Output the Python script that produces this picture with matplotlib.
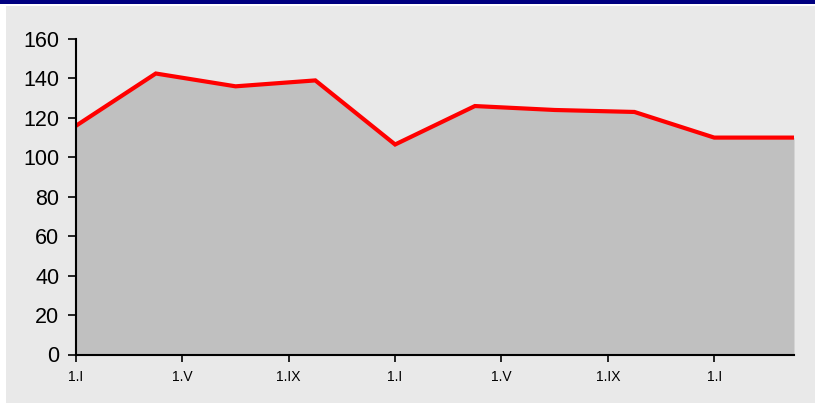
import matplotlib.pyplot as plt
from matplotlib.patches import Rectangle

# quarterly observations, months counted from the first 1.I
months = [0, 3, 6, 9, 12, 15, 18, 21, 24, 27]
values = [116, 142.5, 136, 139, 106.5, 126, 124, 123, 110, 110]

tick_months = [0, 4, 8, 12, 16, 20, 24]
tick_labels = ["1.I", "1.V", "1.IX", "1.I", "1.V", "1.IX", "1.I"]

BG = "#E9E9E9"

plt.rcParams["font.family"] = ["Liberation Sans", "DejaVu Sans"]

fig = plt.figure(figsize=(8.15, 4.03), dpi=100)
fig.patch.set_facecolor("white")

# frame: navy strip on top, light grey panel below
fig.add_artist(Rectangle((0, 1 - 4 / 403), 1, 4 / 403, transform=fig.transFigure,
                         facecolor="#000080", edgecolor="none", zorder=0))
fig.add_artist(Rectangle((6 / 815, 0), 1 - 6 / 815, 1 - 6 / 403, transform=fig.transFigure,
                         facecolor=BG, edgecolor="none", zorder=0))

ax = fig.add_axes([76 / 815, 1 - 354.5 / 403, (794 - 76) / 815, (354.5 - 39) / 403])
ax.set_facecolor("none")

ax.fill_between(months, values, 0, color="#C0C0C0", linewidth=0, zorder=1)
ax.plot(months, values, color="#FF0000", linewidth=3, solid_joinstyle="miter", zorder=3)

ax.set_xlim(0, 27)
ax.set_ylim(0, 160)
ax.set_yticks(range(0, 161, 20))
ax.set_xticks(tick_months)
ax.set_xticklabels(tick_labels)

for side in ["top", "right"]:
    ax.spines[side].set_visible(False)
for side in ["left", "bottom"]:
    ax.spines[side].set_linewidth(1.5)
    ax.spines[side].set_color("black")
    ax.spines[side].set_zorder(4)

ax.tick_params(axis="y", direction="out", length=6, width=1.2, labelsize=15.5, pad=6)
ax.tick_params(axis="x", direction="out", length=5, width=1.2, labelsize=10, pad=6)

fig.savefig("out.png", dpi=100, facecolor=fig.get_facecolor())
